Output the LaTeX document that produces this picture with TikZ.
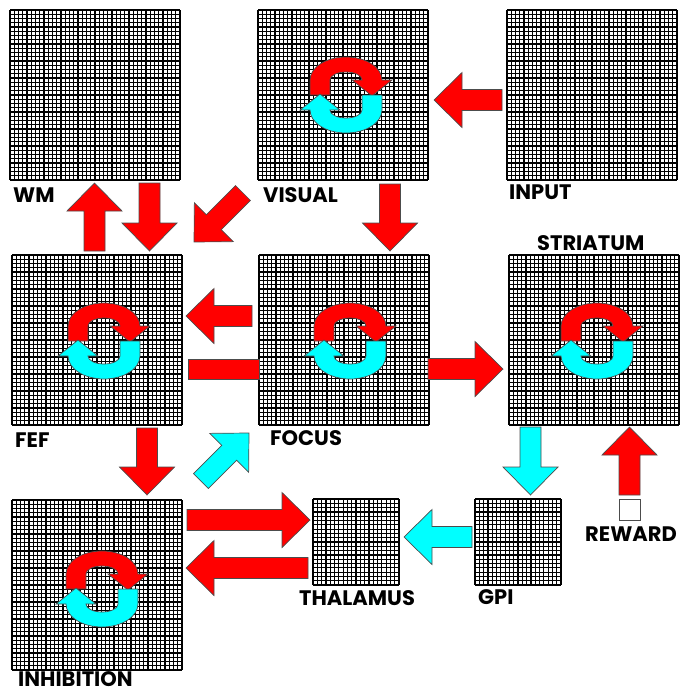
\documentclass[tikz,border=0pt]{standalone}
\usepackage{fontspec}
\setmainfont{Poppins}
\usetikzlibrary{calc}

\definecolor{aqua}{RGB}{0,255,255}
\definecolor{brightred}{RGB}{255,0,0}

\tikzset{
  gridline/.style={black, line width=1.2pt},
  arrowbody/.style={draw=black!70, line width=0.7pt, line join=miter},
  lab/.style={anchor=west, inner sep=0pt, text depth=0pt, font=\bfseries\fontsize{21}{21}\selectfont},
  loopicon/.pic={
    \draw[arrowbody, fill=brightred] (-36,0) -- (-36,-15)
      arc[start angle=180, end angle=360, x radius=36, y radius=23]
      -- (46,-15) -- (26,1) -- (6,-15) -- (16,-15)
      arc[start angle=360, end angle=180, x radius=16, y radius=8]
      -- (-16,0) -- cycle;
    \draw[arrowbody, fill=aqua, rotate=180] (-36,0) -- (-36,-15)
      arc[start angle=180, end angle=360, x radius=36, y radius=23]
      -- (46,-15) -- (26,1) -- (6,-15) -- (16,-15)
      arc[start angle=360, end angle=180, x radius=16, y radius=8]
      -- (-16,0) -- cycle;
  }
}

% name, left, top, size, cells
\newcommand{\layer}[5]{%
  \foreach \i in {0,...,#5} {
    \draw[gridline] ({#2+\i*#4/#5},#3) -- ({#2+\i*#4/#5},{#3+#4});
    \draw[gridline] (#2,{#3+\i*#4/#5}) -- ({#2+#4},{#3+\i*#4/#5});
  }
  \node[inner sep=0pt, minimum size=#4pt, anchor=north west] (#1) at (#2,#3) {};
}

% fill, tail, tip
\newcommand{\blockarrow}[3][brightred]{%
  \draw[arrowbody, fill=#1] let \p1=(#2), \p2=(#3),
      \n1={atan2(\y2-\y1,\x2-\x1)}, \n2={veclen(\x2-\x1,\y2-\y1)} in
    [shift={(\p1)}, rotate=\n1]
    (0pt,10.5pt) -- ({\n2-28pt},10.5pt) -- ({\n2-28pt},27.5pt) -- ({\n2+0pt},0pt)
    -- ({\n2-28pt},-27.5pt) -- ({\n2-28pt},-10.5pt) -- (0pt,-10.5pt) -- cycle;}

\begin{document}
\begin{tikzpicture}[x=1pt, y=-1pt]
    \useasboundingbox (0,0) rectangle (683,694);

    \layer{wm}{10}{10}{170}{40}
    \layer{visual}{258}{10}{170}{40}
    \layer{input}{507}{10}{170}{40}
    \layer{fef}{12}{255}{170}{40}
    \layer{focus}{259}{255}{170}{40}
    \layer{striatum}{509}{255}{170}{40}
    \layer{inhibition}{12}{500}{170}{40}
    \layer{thalamus}{313}{499}{86}{20}
    \layer{gpi}{475}{499}{86}{20}

    \pic at (346,95) {loopicon};
    \pic at (104,341) {loopicon};
    \pic at (350,341) {loopicon};
    \pic at (597,341) {loopicon};
    \pic at (102,589) {loopicon};

    \node[lab] (wm-lab) at (13,195.5) {WM};
    \node[lab] (visual-lab) at (263,195) {VISUAL};
    \node[lab] (input-lab) at (509,192) {INPUT};
    \node[lab] (striatum-lab) at (537,243) {STRIATUM};
    \node[lab] (fef-lab) at (15,440) {FEF};
    \node[lab] (focus-lab) at (270,438) {FOCUS};
    \node[lab] (thalamus-lab) at (299,598) {THALAMUS};
    \node[lab] (gpi-lab) at (478,597) {GPI};
    \node[lab] (reward-lab) at (585,534) {REWARD};
    \node[lab] (inhibition-lab) at (18,679) {INHIBITION};

    \draw[arrowbody, fill=white] (619,499) rectangle (640,520) coordinate (reward);

    \coordinate (a1) at (94.5,251);  \coordinate (b1) at (94.5,183);
    \coordinate (a2) at (149.5,183); \coordinate (b2) at (149.5,251);
    \coordinate (a3) at (243,193);   \coordinate (b3) at (194,242);
    \coordinate (a4) at (502,100);   \coordinate (b4) at (434,100);
    \coordinate (a5) at (390,184);   \coordinate (b5) at (390,251);
    \coordinate (a6) at (252,316);   \coordinate (b6) at (186,316);
    \coordinate (a8) at (147,428);   \coordinate (b8) at (147,495);
    \coordinate (a9) at (201,481);   \coordinate (b9) at (249,433);
    \coordinate (a10) at (428,369);  \coordinate (b10) at (503,369);
    \coordinate (a11) at (530.5,427); \coordinate (b11) at (530.5,495);
    \coordinate (a12) at (629.5,495); \coordinate (b12) at (629.5,427);
    \coordinate (a13) at (472,537);  \coordinate (b13) at (404,537);
    \coordinate (a14) at (187,520);  \coordinate (b14) at (310,520);
    \coordinate (a15) at (308,568);  \coordinate (b15) at (186,568);

    \blockarrow{a1}{b1}
    \blockarrow{a2}{b2}
    \blockarrow{a3}{b3}
    \blockarrow{a4}{b4}
    \blockarrow{a5}{b5}
    \blockarrow{a6}{b6}
    \draw[arrowbody, fill=brightred] (188,359) rectangle (259,379);
    \blockarrow{a8}{b8}
    \blockarrow[aqua]{a9}{b9}
    \blockarrow{a10}{b10}
    \blockarrow[aqua]{a11}{b11}
    \blockarrow{a12}{b12}
    \blockarrow[aqua]{a13}{b13}
    \blockarrow{a14}{b14}
    \blockarrow{a15}{b15}
\end{tikzpicture}
\end{document}
